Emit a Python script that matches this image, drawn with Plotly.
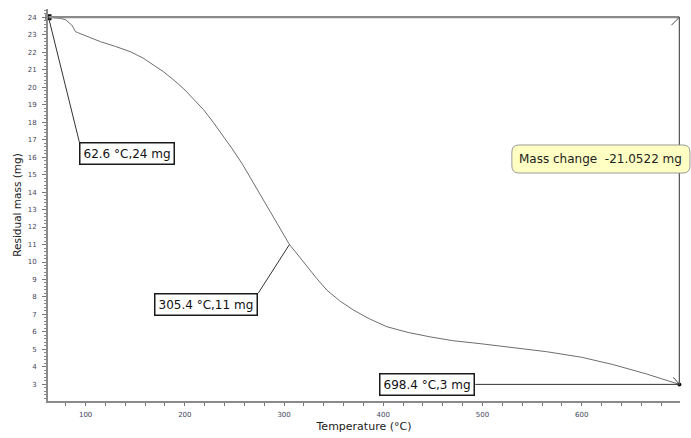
import plotly.graph_objects as go

# ---- data ----
temperature = [62.6, 70, 75, 80, 83, 86, 88, 89.6, 92, 95, 105, 115, 130, 145, 158,
               168, 178, 188, 199, 209, 219, 229, 238, 247.4, 258, 269.2,
               280, 289.3, 297, 305.4, 314, 323, 333, 343, 356, 370, 386, 403.5,
               425, 447, 470, 497.5, 530, 564.6, 600, 631.7, 665, 698.4]
mass = [24.0, 23.97, 23.93, 23.85, 23.72, 23.55, 23.37, 23.18, 23.12, 23.05, 22.85,
        22.6, 22.33, 22.03, 21.66, 21.27, 20.9, 20.45, 19.9, 19.3, 18.7, 17.96,
        17.26, 16.5, 15.6, 14.5, 13.5, 12.6, 11.82, 11.0, 10.4, 9.73, 9.05, 8.4,
        7.78, 7.25, 6.75, 6.3, 5.97, 5.72, 5.5, 5.33, 5.12, 4.87, 4.55, 4.13, 3.6, 3.0]

marker_temps = [62.6, 305.4, 698.4]
marker_mass = [24, 11, 3]
marker_labels = ["62.6 °C,24 mg", "305.4 °C,11 mg", "698.4 °C,3 mg"]
mass_change = -21.0522

x_title = "Temperature (°C)"
y_title = "Residual mass (mg)"

FONT = "DejaVu Sans"

fig = go.Figure()
fig.add_trace(go.Scatter(x=temperature, y=mass, mode="lines",
                         line=dict(color="#6e6e6e", width=1), hoverinfo="skip",
                         showlegend=False, cliponaxis=False))

# step measure lines (mass change)
fig.add_shape(type="line", xref="x", yref="y",
              x0=marker_temps[0], y0=marker_mass[0], x1=marker_temps[2], y1=marker_mass[0],
              line=dict(color="#8a8a8a", width=2.2), layer="above")
fig.add_shape(type="line", xref="x", yref="y",
              x0=marker_temps[2], y0=marker_mass[0], x1=marker_temps[2], y1=marker_mass[2],
              line=dict(color="#5a5a5a", width=1.3), layer="above")
# small half-arrow strokes at the measure ends
fig.add_shape(type="line", xref="x", yref="y", xsizemode="pixel", ysizemode="pixel",
              xanchor=marker_temps[2], yanchor=marker_mass[0],
              x0=-8, y0=-8, x1=0, y1=0, line=dict(color="#444444", width=1), layer="above")
fig.add_shape(type="line", xref="x", yref="y", xsizemode="pixel", ysizemode="pixel",
              xanchor=marker_temps[2], yanchor=marker_mass[2],
              x0=-6, y0=7, x1=0, y1=0, line=dict(color="#444444", width=1), layer="above")

# end markers
fig.add_trace(go.Scatter(x=[marker_temps[0]], y=[marker_mass[0]], mode="markers",
                         marker=dict(symbol="square", size=6, color="#111111"),
                         hoverinfo="skip", showlegend=False, cliponaxis=False))
fig.add_trace(go.Scatter(x=[marker_temps[2]], y=[marker_mass[2]], mode="markers",
                         marker=dict(symbol="circle", size=4, color="#111111"),
                         hoverinfo="skip", showlegend=False, cliponaxis=False))

# label boxes: (anchor x, anchor y, xanchor, yanchor)
box_pos = [(93.65, 16.87, "left", "top"),
           (274.0, 8.22, "right", "top"),
           (492.7, 3.0, "right", "middle")]

for (px, py, xa, ya), tx, my, lab in zip(box_pos, marker_temps, marker_mass, marker_labels):
    fig.add_shape(type="line", xref="x", yref="y", x0=tx, y0=my, x1=px, y1=py,
                  line=dict(color="#333333", width=1), layer="above")
    fig.add_annotation(x=px, y=py, xref="x", yref="y", xanchor=xa, yanchor=ya,
                       text=lab, showarrow=False,
                       font=dict(family=FONT, size=12, color="#111111"),
                       bgcolor="white", bordercolor="#1a1a1a", borderwidth=1.5,
                       borderpad=3)

# rounded yellow "mass change" tooltip
x0, x1, y0, y1 = 0.734, 1.0158, 0.5816, 0.6531
rx, ry = 7 / 632, 7 / 392
path = (f"M{x0+rx},{y0} L{x1-rx},{y0} Q{x1},{y0} {x1},{y0+ry} "
        f"L{x1},{y1-ry} Q{x1},{y1} {x1-rx},{y1} L{x0+rx},{y1} Q{x0},{y1} {x0},{y1-ry} "
        f"L{x0},{y0+ry} Q{x0},{y0} {x0+rx},{y0} Z")
fig.add_shape(type="path", xref="paper", yref="paper", path=path,
              fillcolor="#ffffc4", line=dict(color="#9a9a9a", width=1), layer="above")
fig.add_annotation(x=(x0 + x1) / 2, y=(y0 + y1) / 2, xref="paper", yref="paper",
                   xanchor="center", yanchor="middle",
                   text=f"Mass change  {mass_change:.4f} mg", showarrow=False,
                   font=dict(family=FONT, size=12, color="#222222"))

tickfont = dict(family=FONT, size=7, color="#44445a")
fig.update_layout(
    width=691, height=438,
    margin=dict(l=48, r=11, t=9, b=37),
    paper_bgcolor="white", plot_bgcolor="white",
    font=dict(family=FONT),
    xaxis=dict(range=[62.1, 699], showgrid=False, zeroline=False, automargin=False,
               tickmode="array", tickvals=[100, 200, 300, 400, 500, 600],
               ticks="outside", ticklen=3, tickcolor="#777777", tickwidth=1,
               minor=dict(dtick=20, tick0=0, ticks="outside", ticklen=3,
                          tickcolor="#777777", showgrid=False),
               showline=True, linecolor="#8a8a8a", linewidth=2,
               tickfont=tickfont, ticklabelstandoff=3,
               title=dict(text=x_title, font=dict(family=FONT, size=11, color="#222222"),
                          standoff=4)),
    yaxis=dict(range=[2.05, 24.47], showgrid=False, zeroline=False, automargin=False,
               tickmode="linear", tick0=3, dtick=1,
               ticks="outside", ticklen=4, tickcolor="#777777", tickwidth=1,
               minor=dict(dtick=0.2, tick0=0, ticks="outside", ticklen=2,
                          tickcolor="#888888", showgrid=False),
               showline=True, linecolor="#8a8a8a", linewidth=2,
               tickfont=tickfont, ticklabelstandoff=4,
               title=dict(text=y_title, font=dict(family=FONT, size=10.5, color="#222222"),
                          standoff=4)),
)

fig.write_html("out.html", config={"displayModeBar": False},
               post_script="document.body.style.margin='0';document.body.style.overflow='hidden';")
